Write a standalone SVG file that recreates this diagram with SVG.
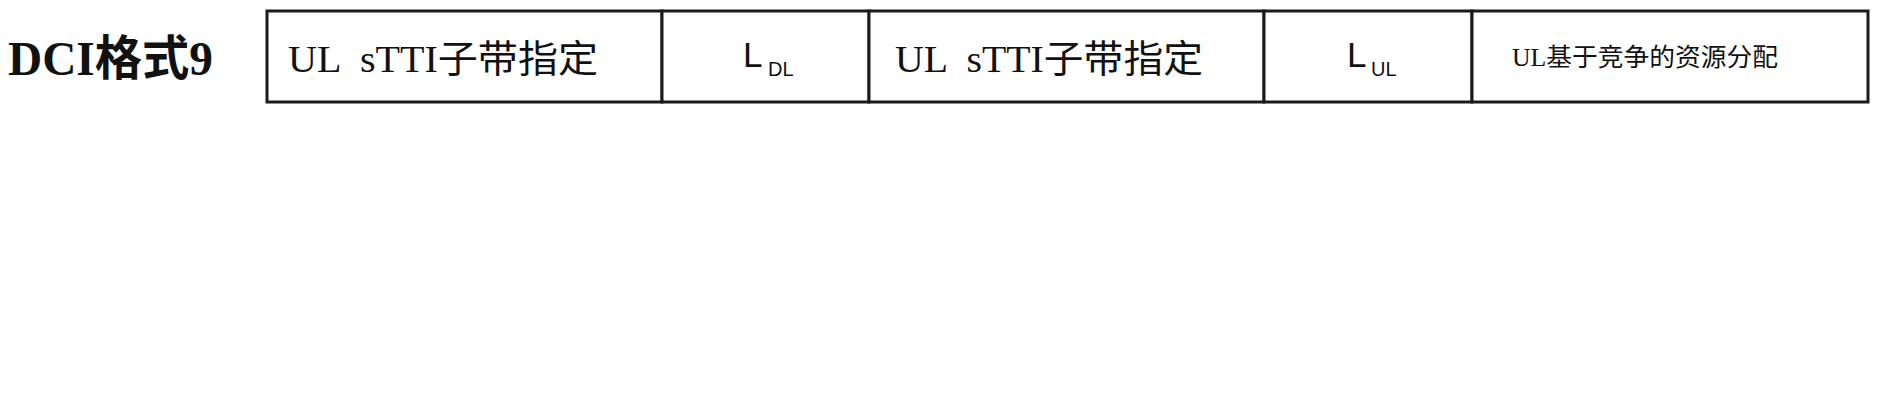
<svg xmlns="http://www.w3.org/2000/svg" width="1877" height="400" viewBox="0 0 1877 400">
<style>
.cell{fill:#fff;stroke:#1a1a1a;stroke-width:3}
.ser{font-family:"Liberation Serif","Noto Sans CJK SC",serif;fill:#111}
.san{font-family:"Liberation Sans","Noto Sans CJK SC",sans-serif;fill:#111}
</style>
<rect width="1877" height="400" fill="#fff"/>
<g id="title"><text class="ser" x="8" y="75" font-size="48" font-weight="bold" textLength="205" lengthAdjust="spacingAndGlyphs">DCI格式9</text></g>
<g id="cell1"><rect class="cell" x="267" y="11" width="395" height="91"/><text class="ser" x="288" y="72" font-size="38" xml:space="preserve" textLength="310" lengthAdjust="spacingAndGlyphs">UL  sTTI子带指定</text></g>
<g id="cell2"><rect class="cell" x="662" y="11" width="207" height="91"/><text class="san" x="743" y="67" font-size="35">L</text><text class="san" x="768" y="76" font-size="20">DL</text></g>
<g id="cell3"><rect class="cell" x="869" y="11" width="395" height="91"/><text class="ser" x="895" y="72" font-size="38" xml:space="preserve" textLength="308" lengthAdjust="spacingAndGlyphs">UL  sTTI子带指定</text></g>
<g id="cell4"><rect class="cell" x="1264" y="11" width="208" height="91"/><text class="san" x="1347" y="67" font-size="35">L</text><text class="san" x="1371" y="76" font-size="20">UL</text></g>
<g id="cell5"><rect class="cell" x="1472" y="11" width="396" height="91"/><text class="ser" x="1512" y="66" font-size="25" textLength="266" lengthAdjust="spacingAndGlyphs">UL基于竞争的资源分配</text></g>
<g id="connectors"></g>
</svg>
